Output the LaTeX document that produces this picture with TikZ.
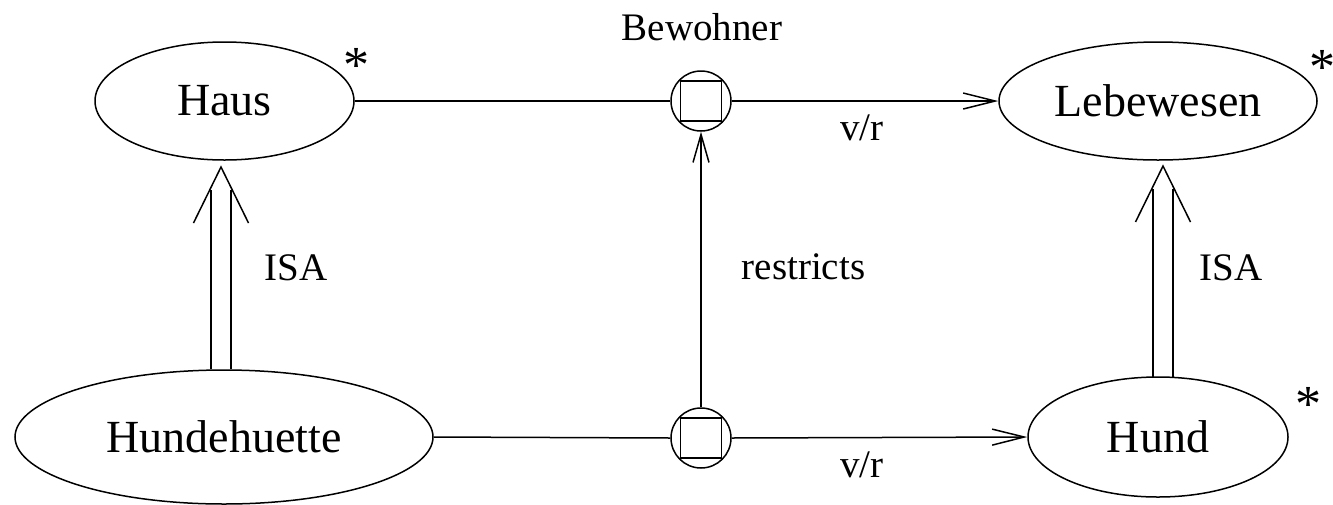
\documentclass[tikz,border=0pt]{standalone}
\usepackage{fontspec}
\setmainfont{Liberation Serif}
\usetikzlibrary{shapes.geometric,arrows.meta,calc}

\tikzset{
  concept/.style={draw, ellipse, line width=1.5pt, inner sep=0pt,
    font=\fontsize{46}{50}\selectfont},
  role/.style={draw, circle, line width=1.5pt, minimum size=60pt, inner sep=0pt},
  rolebox/.style={draw, rectangle, line width=1.5pt, minimum width=41pt,
    minimum height=40pt, inner sep=0pt},
  lbl/.style={font=\fontsize{39}{42}\selectfont, anchor=base, inner sep=0pt},
  star/.style={font=\fontsize{52}{56}\selectfont, anchor=base, inner sep=0pt},
  conn/.style={line width=1.5pt},
  vr/.style={conn, -{Straight Barb[length=32pt,width=16pt,line width=1.5pt]}},
}

\begin{document}
\begin{tikzpicture}[x=1pt, y=-1pt]
  \useasboundingbox (0,0) rectangle (1333,504);

  % concepts
  \node[concept, minimum width=259pt, minimum height=118pt] (haus) at (224.5,101) {Haus};
  \node[concept, minimum width=318pt, minimum height=118pt] (lebewesen) at (1158,101) {Lebewesen};
  \node[concept, minimum width=418pt, minimum height=134pt] (huette) at (224,437) {Hundehuette};
  \node[concept, minimum width=260pt, minimum height=120pt] (hund) at (1158,437) {Hund};

  % roles
  \node[role] (bew) at (701,101) {};
  \node[rolebox] (bewsq) at (701,101) {};
  \node[role] (bew2) at (701,438) {};
  \node[rolebox] (bew2sq) at (701,438) {};

  % labels
  \node[lbl] (tbew) at (702,40) {Bewohner};
  \node[lbl] (tvr1) at (862,140) {v/r};
  \node[lbl] (tvr2) at (862,477) {v/r};
  \node[lbl] (trestr) at (803.5,279) {restricts};
  \node[lbl] (tisa1) at (296,280) {ISA};
  \node[lbl] (tisa2) at (1231,280) {ISA};
  \node[star] (s1) at (356,82) {*};
  \node[star] (s2) at (1322,84) {*};
  \node[star] (s3) at (1308,421) {*};

  % role connectors
  \draw[conn] (haus.east) -- (bew.west);
  \draw[vr] (bew.east) -- (lebewesen.west);
  \draw[conn] (huette.east) -- (bew2.west);
  \draw[vr] (bew2.east) -- (hund.west);
  \draw[conn, -{Straight Barb[length=28pt,width=16pt,line width=1.5pt]}]
    (bew2.north) -- (bew.south);

  % ISA links (double shaft, open head)
  \coordinate (isa1tip) at (221,167);
  \coordinate (isa1foot) at (221,369);
  \draw[conn] ($(isa1foot)+(-10,0)$) -- ($(isa1tip)+(-10,23)$);
  \draw[conn] ($(isa1foot)+(10,0)$) -- ($(isa1tip)+(10,23)$);
  \draw[conn] ($(isa1tip)+(-27.5,56)$) -- (isa1tip) -- ($(isa1tip)+(27.5,56)$);

  \coordinate (isa2tip) at (1163,166);
  \coordinate (isa2foot) at (1163,378);
  \draw[conn] ($(isa2foot)+(-10,0)$) -- ($(isa2tip)+(-10,23)$);
  \draw[conn] ($(isa2foot)+(10,0)$) -- ($(isa2tip)+(10,23)$);
  \draw[conn] ($(isa2tip)+(-27.5,56)$) -- (isa2tip) -- ($(isa2tip)+(27.5,56)$);
\end{tikzpicture}
\end{document}
